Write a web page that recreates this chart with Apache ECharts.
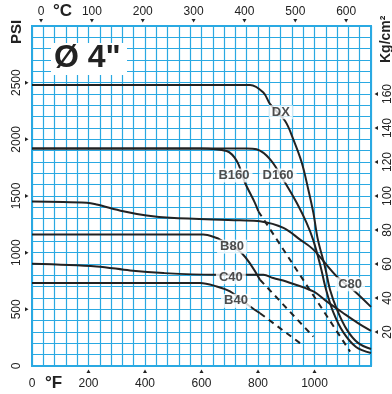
<!DOCTYPE html>
<html>
<head>
<meta charset="utf-8">
<script src="https://cdn.jsdelivr.net/npm/echarts@6/dist/echarts.min.js"></script>
<style>
  html, body { margin: 0; padding: 0; background: #fff; }
  #chart { width: 392px; height: 394px; }
</style>
</head>
<body>
<div id="chart"></div>
<script>
// tick values
const fTicks = [200, 400, 600, 800, 1000];
const cTicks = [0, 100, 200, 300, 400, 500, 600];
const psiTicks = [500, 1000, 1500, 2000, 2500];
const kgTicks = [20, 40, 60, 80, 100, 120, 140, 160];

// curves, temperature in °F / pressure in PSI
const dxF = [0, 772, 819, 843, 896, 925, 955, 978, 996, 1012, 1037, 1055, 1080, 1115, 1154, 1200];
const dxPsi = [2480, 2480, 2413, 2310, 2162, 2000, 1794, 1558, 1351, 1115, 876, 673, 496, 319, 204, 150];

const d160F = [0, 760, 795, 843, 896, 937, 972, 995, 1020, 1041, 1066, 1101, 1147, 1200];
const d160Psi = [1920, 1920, 1912, 1823, 1617, 1440, 1263, 1115, 894, 673, 478, 301, 168, 115];

const b160F = [0, 595, 689, 725, 754, 789, 801];
const b160Psi = [1920, 1920, 1897, 1808, 1617, 1440, 1366];
const b160DashF = [801, 1126];
const b160DashPsi = [1366, 127];

const c80F = [0, 194, 229, 323, 406, 489, 736, 807, 890, 949, 996, 1079, 1143, 1200];
const c80Psi = [1451, 1440, 1425, 1366, 1328, 1307, 1286, 1277, 1219, 1115, 1027, 790, 658, 522];

const b80F = [0, 606, 654, 666, 742, 807];
const b80Psi = [1160, 1160, 1130, 1115, 997, 761];
const b80DashF = [807, 996];
const b80DashPsi = [761, 259];

const c40F = [0, 229, 347, 465, 642, 819, 854, 900, 996, 1043, 1100, 1150, 1200];
const c40Psi = [903, 879, 843, 820, 805, 805, 776, 745, 658, 570, 470, 385, 310];

const b40F = [0, 595, 654, 701, 772, 807];
const b40Psi = [732, 732, 702, 658, 525, 466];
const b40DashF = [807, 949];
const b40DashPsi = [466, 201];

// label positions [°F, PSI]
const labelNames = ['DX', 'D160', 'B160', 'B80', 'C40', 'B40', 'C80'];
const labelF = [881, 871, 715, 708, 704, 722, 1126];
const labelPsi = [2239, 1681, 1681, 1053, 783, 575, 721];

const blue = '#2aa9e2';
const ink = '#222';
const font = 'Liberation Sans, Arial, sans-serif';

function pts(xs, ys) {
  return xs.map((x, i) => [x, ys[i]]);
}

function curve(xs, ys, dashed) {
  return {
    type: 'line',
    data: pts(xs, ys),
    showSymbol: false,
    smooth: dashed ? false : 0.35,
    silent: true,
    z: 3,
    lineStyle: {
      color: ink,
      width: 2,
      type: dashed ? [6, 5] : 'solid'
    }
  };
}

const labelStyle = { color: ink, fontSize: 12, fontFamily: font };

// axis that only carries labels
function labelAxis(pos, min, max, labels, rotate, margin) {
  return {
    type: 'value', position: pos,
    min: min, max: max,
    axisLine: { show: false },
    axisTick: { show: false },
    axisLabel: Object.assign({ customValues: labels, rotate: rotate, margin: margin, formatter: v => String(v) }, labelStyle),
    splitLine: { show: false }
  };
}

// hidden axis that only draws the blue grid
function gridAxis(pos, max, step) {
  return {
    type: 'value',
    position: pos,
    min: 0, max: max, interval: step,
    axisLine: { show: false },
    axisTick: { show: false },
    axisLabel: { show: false },
    splitLine: { show: true, lineStyle: { color: blue, width: 1.2 } }
  };
}

const chart = echarts.init(document.getElementById('chart'));

const series = [
  curve(dxF, dxPsi),
  curve(d160F, d160Psi),
  curve(b160F, b160Psi),
  curve(b160DashF, b160DashPsi, true),
  curve(c80F, c80Psi),
  curve(b80F, b80Psi),
  curve(b80DashF, b80DashPsi, true),
  curve(c40F, c40Psi),
  curve(b40F, b40Psi),
  curve(b40DashF, b40DashPsi, true),
  {
    type: 'scatter',
    data: pts(labelF, labelPsi),
    symbolSize: 0,
    silent: true,
    z: 5,
    label: {
      show: true,
      position: 'inside',
      formatter: p => labelNames[p.dataIndex],
      backgroundColor: '#fff',
      padding: [1, 3, 0, 3],
      color: ink,
      fontFamily: font,
      fontWeight: 'bold',
      fontSize: 13
    }
  }
];

const texts = [
  {
    type: 'rect', left: 51, top: 43, z: 10,
    shape: { width: 76, height: 32 },
    style: { fill: '#fff' }
  },
  {
    type: 'text', left: 54, top: 42, z: 11,
    style: { text: 'Ø 4"', fill: ink, font: 'bold 32px ' + font }
  },
  {
    type: 'text', left: 53, top: 3, z: 11,
    style: { text: '°C', fill: ink, font: 'bold 17px ' + font }
  },
  {
    type: 'text', left: 45, top: 375, z: 11,
    style: { text: '°F', fill: ink, font: 'bold 17px ' + font }
  },
  {
    type: 'text', x: 9, y: 44, rotation: Math.PI / 2, z: 11,
    style: { text: 'PSI', fill: ink, font: 'bold 15px ' + font }
  },
  {
    type: 'text', x: 379, y: 63, rotation: Math.PI / 2, z: 11,
    style: { text: 'Kg/cm²', fill: ink, font: 'bold 14px ' + font }
  }
];

chart.setOption({
  animation: false,
  backgroundColor: '#fff',
  grid: {
    left: 32, right: 21, top: 26, bottom: 28,
    outerBoundsMode: 'none',
    show: true,
    borderColor: blue,
    borderWidth: 2
  },
  xAxis: [
    labelAxis('bottom', 0, 1200, [0].concat(fTicks), 0, 12),
    labelAxis('top', (0 - 32) * 5 / 9, (1200 - 32) * 5 / 9, cTicks, 0, 8),
    gridAxis('bottom', 1200, 40)
  ],
  yAxis: [
    labelAxis('left', 0, 3000, [0].concat(psiTicks), 90, 9),
    labelAxis('right', 0, 200, kgTicks, 90, 11),
    gridAxis('left', 3000, 100)
  ],
  graphic: texts,
  series: series
});

// small triangle tick marks, placed through the axis scales
const plotBottom = chart.convertToPixel({ yAxisIndex: 0 }, 0);
const plotTop = chart.convertToPixel({ yAxisIndex: 0 }, 3000);
const plotLeft = chart.convertToPixel({ xAxisIndex: 0 }, 0);
const plotRight = chart.convertToPixel({ xAxisIndex: 0 }, 1200);
const tri = p => ({ type: 'polygon', z: 11, silent: true, shape: { points: p }, style: { fill: ink } });
const marks = [];
fTicks.forEach(v => {
  const x = chart.convertToPixel({ xAxisIndex: 0 }, v);
  marks.push(tri([[x - 2, plotBottom + 7], [x + 2, plotBottom + 7], [x, plotBottom + 3.5]]));
});
cTicks.forEach(v => {
  const x = chart.convertToPixel({ xAxisIndex: 1 }, v);
  marks.push(tri([[x - 2, plotTop - 7], [x + 2, plotTop - 7], [x, plotTop - 3.5]]));
});
psiTicks.forEach(v => {
  const y = chart.convertToPixel({ yAxisIndex: 0 }, v);
  marks.push(tri([[plotLeft - 7, y - 2], [plotLeft - 7, y + 2], [plotLeft - 3.5, y]]));
});
kgTicks.forEach(v => {
  const y = chart.convertToPixel({ yAxisIndex: 1 }, v);
  marks.push(tri([[plotRight + 7, y - 2], [plotRight + 7, y + 2], [plotRight + 3.5, y]]));
});
chart.setOption({ graphic: texts.concat(marks) });
</script>
</body>
</html>
